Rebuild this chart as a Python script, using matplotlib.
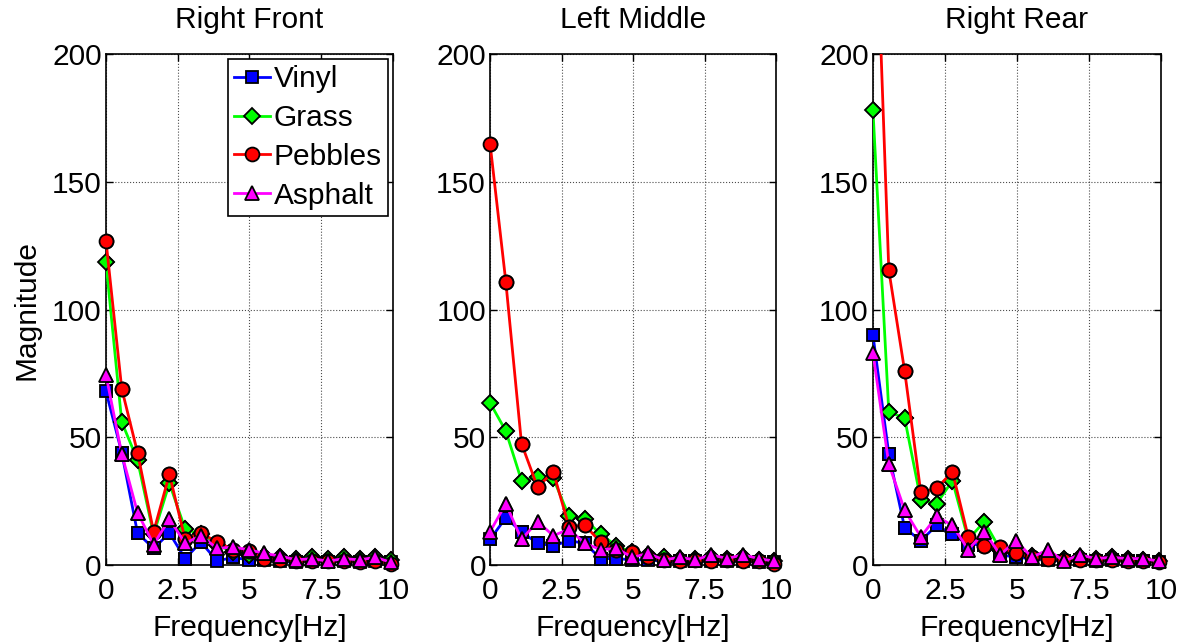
import numpy as np
import matplotlib
matplotlib.use('Agg')
import matplotlib.pyplot as plt

plt.rcParams['font.family'] = ['Liberation Sans', 'DejaVu Sans']
plt.rcParams['font.size'] = 21.5

# frequency bins [Hz]
freq = [0.00, 0.55, 1.10, 1.66, 2.21, 2.76, 3.31, 3.87, 4.42, 4.97,
        5.52, 6.08, 6.63, 7.18, 7.73, 8.29, 8.84, 9.39, 9.94]

titles = ['Right Front', 'Left Middle', 'Right Rear']
surfaces = ['Vinyl', 'Grass', 'Pebbles', 'Asphalt']

# Right Front
rf_vinyl = [68, 44, 12.5, 6.5, 12.5, 2.5, 9, 1.5, 3, 2, 2, 1.5, 1, 1.5, 1, 1.5, 1, 1.5, 1]
rf_grass = [118.5, 56, 41, 12, 32, 14, 12, 8, 5, 4, 3.5, 3, 2.5, 3, 2.5, 3, 2.5, 3, 2]
rf_pebbles = [127, 69, 44, 13, 35.5, 10, 12.5, 9, 6, 5.5, 2.5, 2, 1.5, 1.5, 1.5, 1.5, 1, 1.5, 0.5]
rf_asphalt = [74.5, 43.5, 20.5, 8, 18, 8.5, 11.5, 6.5, 7, 6, 4.5, 3.5, 2, 2.5, 1.5, 2.5, 2, 3, 1]

# Left Middle
lm_vinyl = [10, 18.5, 13, 8.5, 7.5, 9.5, 8.5, 2.5, 2.5, 2, 2, 1.5, 1.5, 1.5, 1.5, 1.5, 1.5, 1, 1]
lm_grass = [63.5, 52.5, 33, 34.5, 34, 19, 18, 12, 7.5, 5, 4, 3, 2.5, 2.5, 3, 2.5, 3, 2, 1.5]
lm_pebbles = [165, 111, 47.5, 30.5, 36.5, 15, 15.5, 9, 6, 5, 3, 2, 1.5, 2, 1.5, 2, 1.5, 1.5, 0.5]
lm_asphalt = [13, 24, 10, 17, 11.5, 14, 8.5, 6, 6.5, 3, 4.5, 2, 3, 2, 4, 2.5, 4, 2.5, 1.5]

# Right Rear
rr_vinyl = [90, 43.5, 14.5, 9.5, 15.5, 12, 8, 8, 4, 3, 2.5, 2, 1.5, 2, 1.5, 2, 1.5, 1.5, 1]
rr_grass = [178, 60, 57.5, 25.5, 24, 33, 10, 17, 6, 4.5, 3.5, 3, 2.5, 3, 2.5, 3, 2.5, 2, 1.5]
rr_pebbles = [290, 115.5, 76, 28.5, 30, 36.5, 11, 7.5, 7, 4.5, 3, 2.5, 2, 2, 2, 2, 1.5, 1.5, 1]
rr_asphalt = [83, 39.5, 21.5, 11, 19, 15.5, 6, 13, 4, 9.5, 3, 6, 1.5, 4, 2.5, 3, 2.5, 2.5, 1.5]

panels = [
    [rf_vinyl, rf_grass, rf_pebbles, rf_asphalt],
    [lm_vinyl, lm_grass, lm_pebbles, lm_asphalt],
    [rr_vinyl, rr_grass, rr_pebbles, rr_asphalt],
]

colors = ['#0000ff', '#00ff00', '#ff0000', '#ff00ff']
markers = ['s', 'D', 'o', '^']
msizes = [9, 8, 10, 10.5]

xticks = [0, 2.5, 5, 7.5, 10]
xticklabels = ['0', '2.5', '5', '7.5', '10']
yticks = [0, 50, 100, 150, 200]

fig = plt.figure(figsize=(11.84, 6.44), dpi=100)
lefts = [0.0895, 0.4139, 0.7373]
widths = [0.2424, 0.2416, 0.2432]

x = np.array(freq)
for p in range(3):
    ax = fig.add_axes([lefts[p], 0.1227, widths[p], 0.793])
    for s in range(4):
        y = np.array(panels[p][s], dtype=float)
        ax.plot(x, y, color=colors[s], lw=2.0, marker=markers[s],
                ms=msizes[s], mfc=colors[s], mec='black', mew=1.3,
                label=surfaces[s], zorder=3 + s)
        # markers are not clipped at the axis border (only those inside range)
        m = y <= 200
        ax.plot(x[m], y[m], ls='none', marker=markers[s], ms=msizes[s],
                mfc=colors[s], mec='black', mew=1.3, clip_on=False, zorder=3 + s)
    ax.set_xlim(0, 10)
    ax.set_ylim(0, 200)
    ax.set_xticks(xticks)
    ax.set_xticklabels(xticklabels)
    ax.set_yticks(yticks)
    ax.tick_params(direction='in', top=True, right=True, length=5, width=1,
                   labelsize=21.5)
    ax.tick_params(axis='x', pad=9)
    ax.tick_params(axis='y', pad=3)
    ax.grid(True, ls=':', color='black', lw=0.8, alpha=0.7)
    ax.set_axisbelow(True)
    for sp in ax.spines.values():
        sp.set_linewidth(1.2)
    ax.set_title(titles[p], fontsize=21.5, pad=19)
    ax.set_xlabel('Frequency[Hz]', fontsize=21.5, labelpad=6)
    if p == 0:
        ax.set_ylabel('Magnitude', fontsize=21.5, labelpad=8)
        leg = ax.legend(loc='upper right', bbox_to_anchor=(1.0, 1.0),
                        borderaxespad=0.15, handlelength=1.2, handletextpad=0.12,
                        labelspacing=0.36, borderpad=0.22, fancybox=False,
                        framealpha=1, edgecolor='black', fontsize=21.5)
        leg.get_frame().set_linewidth(1.2)
        leg.set_zorder(20)

fig.savefig('out.png', dpi=100)
